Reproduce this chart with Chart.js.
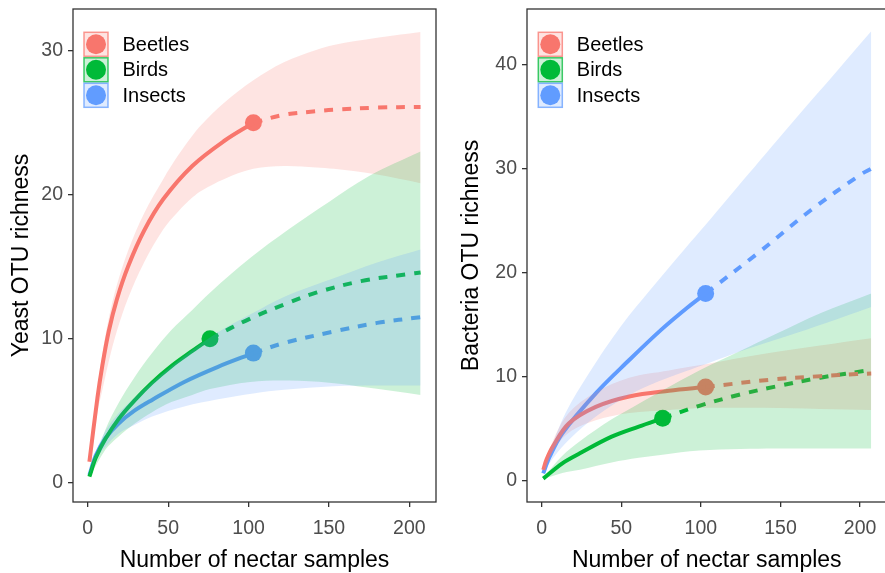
<!DOCTYPE html>
<html>
<head>
<meta charset="utf-8">
<script src="https://cdn.jsdelivr.net/npm/chart.js@4.4.0/dist/chart.umd.min.js"></script>
<style>
  html, body { margin: 0; padding: 0; background: #fff; overflow: hidden; }
  body { width: 885px; height: 573px; position: relative; }
  .panel { position: absolute; top: 0; height: 573px; }
  #left { left: 0; width: 445px; }
  #right { left: 445px; width: 450px; }
</style>
</head>
<body>
<div class="panel" id="left"><canvas id="yeastChart" width="445" height="573"></canvas></div>
<div class="panel" id="right"><canvas id="bacteriaChart" width="450" height="573"></canvas></div>
<script>
const groups = ['Beetles', 'Birds', 'Insects'];
const colors = ['#F8766D', '#00BA38', '#619CFF'];
const xTicks = [0, 50, 100, 150, 200];
const yeastTicks = [0, 10, 20, 30];
const bacteriaTicks = [0, 10, 20, 30, 40];

// ---- Yeast OTU richness ----
// Beetles
const yBeetlesInterpX = [1, 6, 9, 13, 18, 25, 35, 47, 65, 85, 103];
const yBeetlesInterpY = [1.45, 5.9, 8.1, 10.5, 12.7, 15.0, 17.5, 19.7, 22.0, 23.75, 25.0];
const yBeetlesExtrapX = [103, 122, 142, 153, 180, 207];
const yBeetlesExtrapY = [25.0, 25.55, 25.8, 25.9, 26.05, 26.1];
const yBeetlesBandX = [1, 6, 9, 13, 18, 25, 35, 47, 56, 65, 71, 85, 103, 122, 142, 153, 180, 207];
const yBeetlesUpper = [1.6, 6.5, 8.9, 11.4, 13.7, 16.1, 18.7, 21.1, 22.7, 24.1, 24.9, 26.4, 27.95, 29.2, 30.05, 30.4, 30.9, 31.3];
const yBeetlesLower = [1.3, 4.9, 6.4, 8.4, 10.5, 12.8, 15.3, 17.6, 18.8, 19.8, 20.3, 21.1, 21.8, 22.0, 21.9, 21.8, 21.4, 20.8];
// Birds
const yBirdsInterpX = [1, 5, 11, 19, 29, 40, 52, 65, 76];
const yBirdsInterpY = [0.42, 1.75, 3.05, 4.4, 5.7, 6.95, 8.1, 9.15, 10.0];
const yBirdsExtrapX = [76, 101, 125, 142, 170, 200, 207];
const yBirdsExtrapY = [10.0, 11.4, 12.5, 13.2, 14.0, 14.5, 14.6];
const yBirdsBandX = [1, 11, 19, 29, 40, 52, 65, 76, 101, 125, 150, 175, 207];
const yBirdsUpper = [0.5, 3.7, 5.5, 7.3, 9.0, 10.6, 12.0, 13.2, 15.6, 17.6, 19.5, 21.3, 23.0];
const yBirdsLower = [0.35, 2.3, 3.2, 4.1, 4.9, 5.6, 6.1, 6.5, 7.0, 7.1, 6.95, 6.6, 6.1];
// Insects
const yInsectsInterpX = [1, 5, 11, 19, 29, 40, 60, 81, 103];
const yInsectsInterpY = [0.53, 1.9, 3.1, 4.1, 5.0, 5.75, 7.0, 8.05, 9.0];
const yInsectsExtrapX = [103, 122, 153, 180, 207];
const yInsectsExtrapY = [9.0, 9.7, 10.5, 11.1, 11.5];
const yInsectsBandX = [1, 5, 11, 19, 29, 40, 60, 81, 103, 122, 153, 180, 207];
const yInsectsUpper = [0.6, 2.1, 3.6, 4.8, 5.9, 7.0, 8.8, 10.45, 11.8, 12.9, 14.2, 15.3, 16.2];
const yInsectsLower = [0.45, 1.6, 2.5, 3.4, 4.0, 4.6, 5.3, 5.8, 6.2, 6.45, 6.7, 6.75, 6.75];

// ---- Bacteria OTU richness ----
// Beetles
const bBeetlesInterpX = [1, 3, 7, 17, 34, 55, 80, 103];
const bBeetlesInterpY = [1.03, 2.0, 3.27, 5.5, 7.1, 8.1, 8.65, 9.0];
const bBeetlesExtrapX = [103, 143, 175, 198, 207];
const bBeetlesExtrapY = [9.0, 9.7, 10.05, 10.25, 10.3];
const bBeetlesBandX = [1, 7, 17, 34, 55, 80, 95, 103, 140, 175, 207];
const bBeetlesUpper = [1.2, 3.8, 6.5, 8.5, 9.9, 10.6, 11.0, 11.2, 12.2, 13.0, 13.7];
const bBeetlesLower = [0.9, 2.8, 4.6, 5.8, 6.5, 6.8, 6.95, 7.0, 7.0, 6.9, 6.8];
// Birds
const bBirdsInterpX = [1, 13, 24, 44, 61, 76];
const bBirdsInterpY = [0.2, 1.67, 2.63, 4.23, 5.2, 6.0];
const bBirdsExtrapX = [76, 99, 125, 147, 175, 207];
const bBirdsExtrapY = [6.0, 7.2, 8.3, 9.05, 9.9, 10.65];
const bBirdsBandX = [1, 13, 24, 44, 61, 76, 99, 125, 147, 175, 207];
const bBirdsUpper = [0.3, 2.4, 3.8, 5.9, 7.4, 8.7, 10.6, 12.5, 14.1, 16.1, 18.0];
const bBirdsLower = [0.15, 0.75, 1.05, 1.75, 2.2, 2.5, 2.9, 3.05, 3.1, 3.1, 3.1];
// Insects
const bInsectsInterpX = [1, 5, 13, 34, 55, 75, 92, 103];
const bInsectsInterpY = [0.7, 2.3, 4.56, 8.4, 11.6, 14.5, 16.7, 18.0];
const bInsectsExtrapX = [103, 136, 169, 200, 207];
const bInsectsExtrapY = [18.0, 21.9, 26.0, 29.4, 30.0];
const bInsectsBandX = [1, 5, 15, 30, 50, 68, 90, 103, 130, 160, 185, 207];
const bInsectsUpper = [0.8, 2.7, 6.5, 10.4, 14.9, 18.3, 22.3, 24.6, 29.5, 34.9, 39.3, 43.2];
const bInsectsLower = [0.6, 1.7, 3.6, 5.7, 7.8, 9.2, 10.5, 11.2, 12.7, 14.2, 15.5, 16.7];

const FONT = '"Liberation Sans", Arial, Helvetica, sans-serif';

function pts(xs, ys) {
  return xs.map((x, i) => ({ x: x, y: ys[i] }));
}

function rgba(hex, a) {
  const n = parseInt(hex.slice(1), 16);
  return 'rgba(' + (n >> 16) + ',' + ((n >> 8) & 255) + ',' + (n & 255) + ',' + a + ')';
}

// one group -> solid line, dashed line, observed point, ribbon (lower + upper)
function groupDatasets(ds, g, ix, iy, ex, ey, bx, lo, up) {
  const c = colors[g];
  const line = { borderColor: c, borderWidth: 4, pointRadius: 0, pointHoverRadius: 0,
    tension: 0.35, fill: false, order: 10 };
  ds.push(Object.assign({ label: groups[g], data: pts(ix, iy) }, line));
  ds.push(Object.assign({ data: pts(ex, ey), borderDash: [9, 9] }, line));
  ds.push({ data: [{ x: ix[ix.length - 1], y: iy[iy.length - 1] }], showLine: false,
    pointRadius: 8.5, pointHoverRadius: 8.5, pointBackgroundColor: c, pointBorderWidth: 0, order: 10 });
  const lowIdx = ds.length;
  ds.push({ data: pts(bx, lo), borderWidth: 0, borderColor: 'transparent', pointRadius: 0,
    tension: 0.35, fill: false, order: 5 - g });
  ds.push({ data: pts(bx, up), borderWidth: 0, borderColor: 'transparent', pointRadius: 0,
    tension: 0.35, fill: { target: lowIdx }, backgroundColor: rgba(c, 0.2), order: 5 - g });
}

const framePlugin = {
  id: 'frame',
  afterDraw(chart) {
    const { ctx, chartArea: a } = chart;
    ctx.save();
    ctx.strokeStyle = '#333333';
    ctx.lineWidth = 1.3;
    ctx.strokeRect(a.left, a.top, a.right - a.left, a.bottom - a.top);
    ctx.restore();
  }
};

const keyPlugin = {
  id: 'keys',
  afterDraw(chart, args, opts) {
    const ctx = chart.ctx;
    ctx.save();
    groups.forEach((name, i) => {
      const x = opts.x, y = 32.3 + i * 25.5, s = 24;
      ctx.fillStyle = rgba(colors[i], 0.2);
      ctx.fillRect(x, y, s, s);
      ctx.strokeStyle = rgba(colors[i], 0.75);
      ctx.lineWidth = 1.5;
      ctx.strokeRect(x, y, s, s);
      ctx.fillStyle = colors[i];
      ctx.beginPath();
      ctx.arc(x + s / 2, y + s / 2, 10, 0, Math.PI * 2);
      ctx.fill();
      ctx.fillStyle = '#000';
      ctx.font = '20px ' + FONT;
      ctx.textBaseline = 'middle';
      ctx.fillText(name, x + 38.5, y + s / 2 + 1);
    });
    ctx.restore();
  }
};

function makeChart(id, datasets, yTicks, yMin, yMax, yTitle, yTitlePad, axisWidth, keyX, rightPad) {
  return new Chart(document.getElementById(id), {
    type: 'line',
    data: { datasets: datasets },
    plugins: [framePlugin, keyPlugin],
    options: {
      responsive: false,
      animation: false,
      events: [],
      layout: { padding: { left: 0, right: rightPad, top: 9, bottom: 0 } },
      plugins: {
        legend: { display: false },
        tooltip: { enabled: false },
        keys: { x: keyX }
      },
      scales: {
        x: {
          type: 'linear',
          min: -9.2,
          max: 216.6,
          afterBuildTicks: s => { s.ticks = xTicks.map(v => ({ value: v })); },
          afterFit: s => { s.height = 71; s.paddingLeft = 0; s.paddingRight = 0; },
          border: { display: false },
          grid: { drawOnChartArea: false, tickLength: 5, color: '#333333', lineWidth: 1.3 },
          ticks: { color: '#4D4D4D', padding: 10, maxRotation: 0, autoSkip: false,
            font: { family: FONT, size: 19.5 } },
          title: { display: true, text: 'Number of nectar samples', color: '#000',
            font: { family: FONT, size: 23, lineHeight: 1 }, padding: { top: 0, bottom: 1.2 } }
        },
        y: {
          type: 'linear',
          min: yMin,
          max: yMax,
          afterBuildTicks: s => { s.ticks = yTicks.map(v => ({ value: v })); },
          afterFit: s => { s.width = axisWidth; s.paddingTop = 0; s.paddingBottom = 0; },
          border: { display: false },
          grid: { drawOnChartArea: false, tickLength: 5, color: '#333333', lineWidth: 1.3 },
          ticks: { color: '#4D4D4D', padding: 5, autoSkip: false,
            font: { family: FONT, size: 19.5 } },
          title: { display: true, text: yTitle, color: '#000',
            font: { family: FONT, size: 23, lineHeight: 1 }, padding: { top: yTitlePad, bottom: 0 } }
        }
      }
    }
  });
}

const yeastSets = [];
groupDatasets(yeastSets, 0, yBeetlesInterpX, yBeetlesInterpY, yBeetlesExtrapX, yBeetlesExtrapY, yBeetlesBandX, yBeetlesLower, yBeetlesUpper);
groupDatasets(yeastSets, 1, yBirdsInterpX, yBirdsInterpY, yBirdsExtrapX, yBirdsExtrapY, yBirdsBandX, yBirdsLower, yBirdsUpper);
groupDatasets(yeastSets, 2, yInsectsInterpX, yInsectsInterpY, yInsectsExtrapX, yInsectsExtrapY, yInsectsBandX, yInsectsLower, yInsectsUpper);

const bacteriaSets = [];
groupDatasets(bacteriaSets, 0, bBeetlesInterpX, bBeetlesInterpY, bBeetlesExtrapX, bBeetlesExtrapY, bBeetlesBandX, bBeetlesLower, bBeetlesUpper);
groupDatasets(bacteriaSets, 1, bBirdsInterpX, bBirdsInterpY, bBirdsExtrapX, bBirdsExtrapY, bBirdsBandX, bBirdsLower, bBirdsUpper);
groupDatasets(bacteriaSets, 2, bInsectsInterpX, bInsectsInterpY, bInsectsExtrapX, bInsectsExtrapY, bInsectsBandX, bInsectsLower, bInsectsUpper);

makeChart('yeastChart', yeastSets, yeastTicks, -1.34, 32.9, 'Yeast OTU richness', 10.3, 73, 84, 9);
makeChart('bacteriaChart', bacteriaSets, bacteriaTicks, -2.05, 45.35, 'Bacteria OTU richness', 15.3, 82, 93.3, 5);
</script>
</body>
</html>
